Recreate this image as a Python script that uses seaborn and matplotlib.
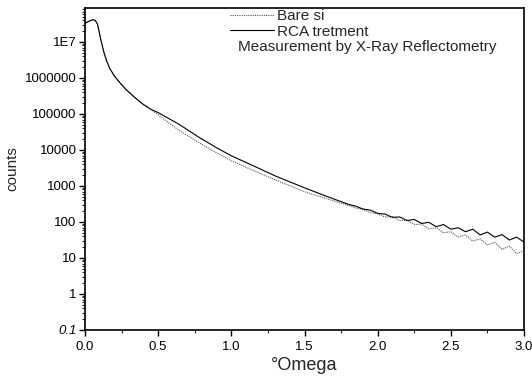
import numpy as np
import pandas as pd
import matplotlib
matplotlib.use("Agg")
import matplotlib.pyplot as plt
import seaborn as sns
from matplotlib.ticker import FixedLocator, MultipleLocator, LogLocator, NullFormatter

# ---- data (log10 of counts) ----
common_omega = [0.00, 0.02, 0.04, 0.055, 0.07, 0.085, 0.095, 0.105, 0.115, 0.13,
                0.15, 0.17, 0.20, 0.24, 0.28, 0.34, 0.40, 0.45]
common_log = [7.52, 7.56, 7.60, 7.62, 7.60, 7.50, 7.32, 7.12, 6.95, 6.70,
              6.45, 6.26, 6.06, 5.86, 5.68, 5.46, 5.26, 5.13]

rca_omega = [0.50, 0.64, 0.78, 0.90, 1.00, 1.14, 1.30, 1.50, 1.64, 1.80,
             1.85, 1.90, 1.95, 2.00, 2.05, 2.10, 2.15, 2.20, 2.25, 2.30, 2.35, 2.40,
             2.45, 2.50, 2.55, 2.60, 2.65, 2.70, 2.75, 2.80, 2.85, 2.90, 2.95, 3.00]
rca_log = [5.04, 4.72, 4.35, 4.06, 3.84, 3.58, 3.28, 2.95, 2.73, 2.49,
           2.44, 2.36, 2.33, 2.24, 2.22, 2.13, 2.14, 2.04, 2.07, 1.96, 1.99, 1.87,
           1.93, 1.80, 1.84, 1.73, 1.80, 1.64, 1.72, 1.58, 1.65, 1.50, 1.58, 1.44]

bare_omega = [0.50, 0.64, 0.78, 0.90, 1.00, 1.14, 1.30, 1.50, 1.64, 1.81,
              1.85, 1.90, 1.95, 2.00, 2.05, 2.10, 2.15, 2.20, 2.25, 2.30, 2.35, 2.40,
              2.45, 2.50, 2.55, 2.60, 2.65, 2.70, 2.75, 2.80, 2.85, 2.90, 2.95, 3.00]
bare_log = [4.98, 4.55, 4.20, 3.92, 3.70, 3.45, 3.17, 2.84, 2.66, 2.45,
            2.39, 2.35, 2.26, 2.23, 2.14, 2.15, 2.04, 2.05, 1.93, 1.94, 1.81, 1.84,
            1.70, 1.73, 1.58, 1.64, 1.47, 1.53, 1.36, 1.44, 1.24, 1.33, 1.12, 1.20]

ytick_values = [0.1, 1, 10, 100, 1000, 10000, 100000, 1000000, 1e7]
ytick_labels = ["0.1", "1", "10", "100", "1000", "10000", "100000", "1000000", "1E7"]
xtick_values = [0.0, 0.5, 1.0, 1.5, 2.0, 2.5, 3.0]

series_names = ["Bare si", "RCA tretment"]
note_text = "Measurement by X-Ray Reflectometry"

# ---- build frames ----
bare_df = pd.DataFrame({
    "omega": common_omega + bare_omega,
    "counts": 10 ** np.array(common_log + bare_log),
})
rca_df = pd.DataFrame({
    "omega": common_omega + rca_omega,
    "counts": 10 ** np.array(common_log + rca_log),
})

sns.set_style("ticks")
plt.rcParams["font.family"] = ["Liberation Sans", "DejaVu Sans"]

fig = plt.figure(figsize=(5.32, 3.86), dpi=100)
ax = fig.add_axes([85 / 532, 1 - 330 / 386, 439 / 532, 322 / 386])

sns.lineplot(data=bare_df, x="omega", y="counts", ax=ax, color="#555555",
             linewidth=0.8, linestyle=(0, (1, 1)), label=series_names[0],
             estimator=None, sort=False)
sns.lineplot(data=rca_df, x="omega", y="counts", ax=ax, color="black",
             linewidth=0.8, linestyle="-", label=series_names[1],
             estimator=None, sort=False)

ax.set_yscale("log")
ax.set_xlim(0.0, 3.0)
ax.set_ylim(0.1, 10 ** (7 + 34 / 36))

ax.yaxis.set_major_locator(FixedLocator(ytick_values))
ax.set_yticklabels(ytick_labels)
ax.yaxis.set_minor_locator(LogLocator(base=10, subs=np.arange(2, 10), numticks=20))
ax.yaxis.set_minor_formatter(NullFormatter())
for lbl in ax.get_yticklabels():
    if lbl.get_text() == "0.1":
        lbl.set_fontstyle("italic")

ax.xaxis.set_major_locator(FixedLocator(xtick_values))
ax.set_xticklabels([f"{v:.1f}" for v in xtick_values])
ax.xaxis.set_minor_locator(MultipleLocator(0.25))

ax.tick_params(axis="both", which="major", direction="out", length=4, width=1,
               labelsize=9.5, pad=2, colors="black")
ax.tick_params(axis="x", which="major", pad=4)
ax.tick_params(axis="both", which="minor", direction="out", length=2, width=0.8)

for s in ax.spines.values():
    s.set_visible(True)
    s.set_linewidth(1.2)
    s.set_color("black")

ax.set_xlabel("°Omega", fontsize=13, labelpad=3)
ax.set_ylabel("counts", fontsize=11, labelpad=4)

leg = ax.legend(loc="upper left", bbox_to_anchor=((230 - 85) / 439, 1 - 1 / 322),
                frameon=False, fontsize=11, handlelength=2.9, handletextpad=0.2,
                borderpad=0, borderaxespad=0, labelspacing=0.12)
for h in leg.get_lines():
    h.set_linewidth(0.8)

ax.text((238 - 85) / 439, 1 - (47 - 8) / 322, note_text, transform=ax.transAxes,
        fontsize=11, va="center", ha="left")

fig.savefig("out.png", dpi=100)
